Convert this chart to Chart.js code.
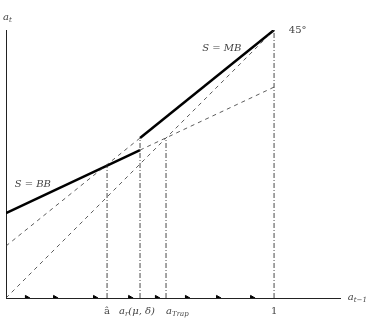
<!DOCTYPE html>
<html><head><meta charset="utf-8">
<script src="https://cdn.jsdelivr.net/npm/chart.js@4/dist/chart.umd.min.js"></script>
<style>html,body{margin:0;padding:0;background:#fff}#w{width:366px;height:321px}</style>
</head><body><div id="w"><canvas id="c"></canvas></div>
<script>
// Data (a_{t-1}, a_t) in model units
const bbX = [0, 0.5], bbY = [0.317, 0.552];          // S = BB (solid)
const bbExtX = [0.5, 1], bbExtY = [0.552, 0.787];    // BB extension (dashed)
const mbX = [0.5, 1], mbY = [0.597, 1];              // S = MB (solid)
const mbExtX = [0, 0.5], mbExtY = [0.194, 0.597];    // MB extension (dashed)
const diagX = [0, 1], diagY = [0, 1];                // 45 degree line
const vX = [0.377, 0.5, 0.597, 1];                   // vertical guide positions
const vTop = [0.494, 0.597, 0.597, 1];               // vertical guide tops
const tickLabels = ["â", "a_r(μ, δ)", "a_Trap", "1"];
const arrowX = [0.078, 0.183, 0.332, 0.463, 0.563, 0.675, 0.791, 0.918];

const pts = (xs, ys) => xs.map((x, i) => ({x, y: ys[i]}));
const line = (xs, ys, w, dash, col) => ({type:'line', data: pts(xs, ys), borderColor: col||'#000', borderWidth: w, borderDash: dash||[], pointRadius: 0, fill: false, tension: 0});

const datasets = [
  line(diagX, diagY, 0.8, [4,4], '#333'),
  line(mbExtX, mbExtY, 0.8, [4,4], '#333'),
  line(bbExtX, bbExtY, 0.8, [4,4], '#333'),
];
vX.forEach((x, i) => datasets.push(line([x, x], [0, vTop[i]], 0.9, [5,2,1,2], '#333')));
datasets.push(line(bbX, bbY, 2.5));
datasets.push(line(mbX, mbY, 2.5));
datasets.push({type:'scatter', data: arrowX.map(x => ({x, y: 0})), pointStyle: 'triangle', rotation: 90, pointRadius: 3, backgroundColor: '#000', borderColor: '#000', borderWidth: 1});

function drawRich(ctx, segs, x, y, align, size) {
  const fontOf = (s, fs) => `${s.up ? '' : 'italic '}${fs}px "DejaVu Serif", serif`;
  const parts = segs.map(s => {
    const fs = s.sub ? size * 0.7 : size;
    ctx.font = fontOf(s, fs);
    return {s, t: s.t, sub: s.sub, fs, w: ctx.measureText(s.t).width};
  });
  const total = parts.reduce((a, p) => a + p.w, 0);
  let cx = align === 'center' ? x - total / 2 : x;
  ctx.textAlign = 'left'; ctx.textBaseline = 'middle';
  parts.forEach(p => {
    ctx.font = fontOf(p.s, p.fs);
    ctx.fillText(p.t, cx, p.sub ? y + size * 0.3 : y);
    cx += p.w;
  });
}
function parseLabel(s) {
  if (/^[0-9â]+$/.test(s)) return [{t: s, up: true}];
  const m = s.match(/^([^_]+)_([A-Za-z]+)(.*)$/);
  if (!m) return [{t: s}];
  const out = [{t: m[1]}, {t: m[2], sub: true}];
  if (m[3]) out.push({t: m[3]});
  return out;
}

const textPlugin = {
  id: 'texts',
  afterDraw(chart) {
    const {ctx, scales: {x, y}} = chart;
    ctx.save();
    ctx.fillStyle = '#444';
    const size = 10;
    const al = ['center', 'center', 'left', 'center'];
    const dx = [0, -3, 0, 0];
    tickLabels.forEach((t, i) => {
      drawRich(ctx, parseLabel(t), x.getPixelForValue(vX[i]) + dx[i], y.getPixelForValue(0) + 13, al[i], size);
    });
    drawRich(ctx, [{t:'a'},{t:'t',sub:true}], x.getPixelForValue(0) - 3, y.getPixelForValue(1) - 13, 'left', size);
    drawRich(ctx, [{t:'a'},{t:'t−1',sub:true}], x.getPixelForValue(1.275), y.getPixelForValue(0) - 1, 'left', size);
    ctx.font = '10px "DejaVu Serif", serif';
    ctx.textAlign = 'left'; ctx.textBaseline = 'middle';
    ctx.fillText('45°', x.getPixelForValue(1.055), y.getPixelForValue(1));
    drawRich(ctx, [{t:'S = MB'}], x.getPixelForValue(0.805), y.getPixelForValue(0.93), 'center', size);
    drawRich(ctx, [{t:'S = BB'}], x.getPixelForValue(0.1), y.getPixelForValue(0.425), 'center', size);
    ctx.restore();
  }
};

new Chart(document.getElementById('c'), {
  data: {datasets},
  options: {
    responsive: true, maintainAspectRatio: false, animation: false,
    layout: {padding: {left: 6, top: 30, right: 26, bottom: 23}},
    plugins: {legend: {display: false}, tooltip: {enabled: false}},
    scales: {
      x: {type: 'linear', min: 0, max: 1.246, grid: {display: false}, ticks: {display: false},
          border: {display: true, color: '#222', width: 1}, afterFit: s => { s.height = 0; }},
      y: {type: 'linear', min: 0, max: 1, grid: {display: false}, ticks: {display: false},
          border: {display: true, color: '#222', width: 1}, afterFit: s => { s.width = 0; }}
    }
  },
  plugins: [textPlugin]
});
</script></body></html>
